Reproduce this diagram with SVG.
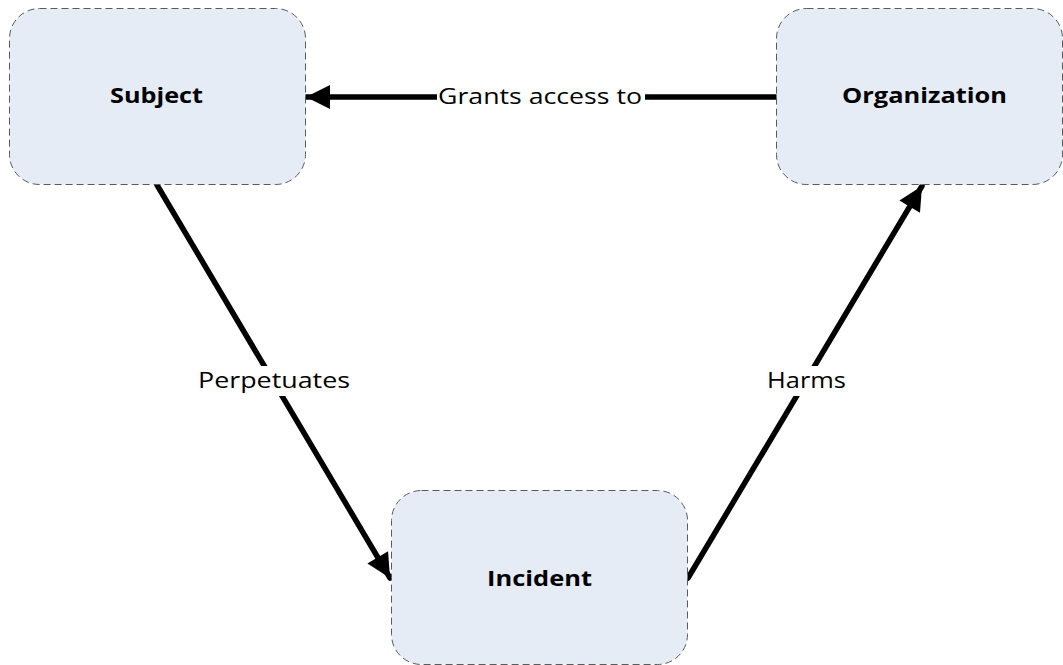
<svg xmlns="http://www.w3.org/2000/svg" width="1063" height="665" viewBox="0 0 1063 665">
  <style>
    .node rect { fill: #e6ecf6; stroke: #5a5a5a; stroke-width: 1; stroke-dasharray: 7 4; }
    .node text { font-family: "Open Sans", "Liberation Sans", sans-serif; font-weight: bold; font-size: 21px; fill: #000; text-anchor: middle; }
    .edge { stroke: #000; stroke-width: 5.5; stroke-linecap: round; fill: none; }
    .lbl-bg { fill: #fff; }
    .lbl { font-family: "Open Sans", "Liberation Sans", sans-serif; font-size: 22px; fill: #000; text-anchor: middle; }
  </style>
  <defs>
    <marker id="arrow" viewBox="0 0 10 10" refX="10" refY="5" markerUnits="userSpaceOnUse" markerWidth="44" markerHeight="24" orient="auto">
      <path d="M0,0 L10,5 L0,10 Z" fill="#000"/>
    </marker>
  </defs>
  <rect width="1063" height="665" fill="#fff"/>

  <g id="connectors">
    <!-- Organization -> Subject -->
    <line class="edge" x1="776" y1="97" x2="306" y2="97" marker-end="url(#arrow)"/>
    <rect class="lbl-bg" x="437" y="84" width="208" height="26"/>
    <text class="lbl" x="540" y="104" textLength="204" lengthAdjust="spacingAndGlyphs">Grants access to</text>
    <!-- Subject -> Incident -->
    <line class="edge" x1="157" y1="185" x2="390" y2="578" marker-end="url(#arrow)"/>
    <rect class="lbl-bg" x="192" y="366" width="164" height="30"/>
    <text class="lbl" x="274" y="388" textLength="152" lengthAdjust="spacingAndGlyphs">Perpetuates</text>
    <!-- Incident -> Organization -->
    <line class="edge" x1="688" y1="578" x2="922" y2="186" marker-end="url(#arrow)"/>
    <rect class="lbl-bg" x="761" y="366" width="91" height="30"/>
    <text class="lbl" x="806.5" y="388" textLength="79" lengthAdjust="spacingAndGlyphs">Harms</text>
  </g>

  <g id="subject" class="node">
    <rect x="9.5" y="8.5" width="296" height="176" rx="30" ry="30"/>
    <text x="156.5" y="103" textLength="93" lengthAdjust="spacingAndGlyphs">Subject</text>
  </g>
  <g id="organization" class="node">
    <rect x="776.5" y="8.5" width="286" height="176" rx="30" ry="30"/>
    <text x="924.5" y="103" textLength="165" lengthAdjust="spacingAndGlyphs">Organization</text>
  </g>
  <g id="incident" class="node">
    <rect x="391.5" y="490.5" width="296" height="174" rx="30" ry="30"/>
    <text x="539.5" y="586" textLength="105" lengthAdjust="spacingAndGlyphs">Incident</text>
  </g>
</svg>
